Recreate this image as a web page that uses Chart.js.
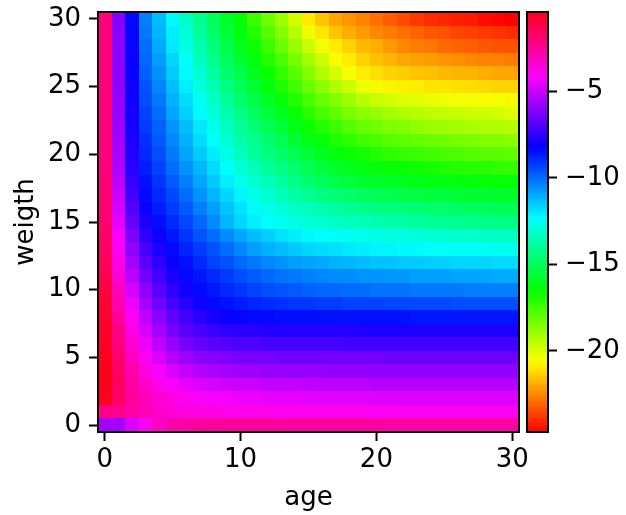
<!DOCTYPE html>
<html>
<head>
<meta charset="utf-8">
<script src="https://cdn.jsdelivr.net/npm/chart.js@4.4.1/dist/chart.umd.min.js"></script>
<style>
  body { margin: 0; background: #fff; }
  #wrap { position: relative; width: 626px; height: 515px; }
  #wrap canvas { position: absolute; top: 0; }
</style>
</head>
<body>
<div id="wrap">
  <canvas id="heat" width="626" height="515" style="left:0"></canvas>
  <canvas id="cbar" width="107" height="515" style="left:519px"></canvas>
</div>
<script>
/* --- data --- */
const ages = [0,1,2,3,4,5,6,7,8,9,10,11,12,13,14,15,16,17,18,19,20,21,22,23,24,25,26,27,28,29,30];
const weights = [0,1,2,3,4,5,6,7,8,9,10,11,12,13,14,15,16,17,18,19,20,21,22,23,24,25,26,27,28,29,30];
const xTicks = [0, 10, 20, 30];
const yTicks = [0, 5, 10, 15, 20, 25, 30];
const cbarTicks = [-20, -15, -10, -5];

// one row per weight (0 .. 30), values along age 0 .. 30
const zByWeight = [
  [-5.6,-5.6,-4.7,-4.0,-3.2,-2.8,-2.7,-2.6,-2.5,-2.5,-2.5,-2.5,-2.5,-2.6,-2.6,-2.6,-2.6,-2.6,-2.6,-2.6,-2.6,-2.7,-2.7,-2.7,-2.7,-2.7,-2.7,-2.7,-2.7,-2.7,-2.7],
  [-2.2,-2.3,-2.7,-3.0,-3.3,-3.5,-3.6,-3.7,-3.7,-3.8,-3.8,-3.8,-3.8,-3.9,-3.9,-3.9,-3.9,-3.9,-3.9,-3.9,-3.9,-3.9,-4.0,-4.0,-4.0,-4.0,-4.0,-4.0,-4.0,-4.0,-4.0],
  [-0.5,-1.6,-2.5,-3.0,-3.4,-3.7,-3.9,-4.1,-4.2,-4.3,-4.4,-4.4,-4.5,-4.5,-4.5,-4.6,-4.6,-4.6,-4.6,-4.6,-4.7,-4.7,-4.7,-4.7,-4.7,-4.7,-4.7,-4.7,-4.7,-4.7,-4.7],
  [-0.4,-1.5,-2.6,-3.3,-3.8,-4.2,-4.5,-4.7,-4.8,-4.9,-5.0,-5.0,-5.1,-5.1,-5.1,-5.2,-5.2,-5.2,-5.2,-5.2,-5.3,-5.3,-5.3,-5.3,-5.3,-5.3,-5.3,-5.3,-5.3,-5.3,-5.3],
  [-0.4,-1.6,-2.8,-3.6,-4.2,-4.7,-5.1,-5.3,-5.5,-5.6,-5.7,-5.7,-5.8,-5.8,-5.8,-5.8,-5.8,-5.9,-5.9,-5.9,-5.9,-5.9,-5.9,-5.9,-5.9,-5.9,-5.9,-5.9,-5.9,-5.9,-5.9],
  [-0.5,-1.8,-3.1,-4.0,-4.7,-5.3,-5.7,-6.0,-6.1,-6.2,-6.3,-6.3,-6.3,-6.4,-6.4,-6.4,-6.4,-6.4,-6.4,-6.4,-6.4,-6.5,-6.5,-6.5,-6.5,-6.5,-6.5,-6.5,-6.5,-6.5,-6.5],
  [-0.6,-2.0,-3.4,-4.4,-5.2,-5.8,-6.3,-6.6,-6.8,-6.9,-7.0,-7.0,-7.1,-7.1,-7.1,-7.1,-7.1,-7.1,-7.2,-7.2,-7.2,-7.2,-7.2,-7.2,-7.2,-7.2,-7.2,-7.2,-7.2,-7.2,-7.2],
  [-0.7,-2.2,-3.7,-4.8,-5.6,-6.3,-6.8,-7.1,-7.3,-7.5,-7.6,-7.6,-7.7,-7.7,-7.7,-7.7,-7.7,-7.7,-7.7,-7.8,-7.8,-7.8,-7.8,-7.8,-7.8,-7.8,-7.8,-7.8,-7.8,-7.8,-7.8],
  [-0.8,-2.5,-4.0,-5.2,-6.0,-6.7,-7.2,-7.6,-7.9,-8.1,-8.2,-8.3,-8.3,-8.4,-8.4,-8.4,-8.5,-8.5,-8.5,-8.5,-8.5,-8.5,-8.5,-8.6,-8.6,-8.6,-8.6,-8.6,-8.6,-8.6,-8.6],
  [-0.9,-2.8,-4.4,-5.6,-6.4,-7.1,-7.6,-8.0,-8.3,-8.5,-8.7,-8.8,-8.9,-9.0,-9.1,-9.1,-9.2,-9.2,-9.3,-9.3,-9.3,-9.4,-9.4,-9.4,-9.4,-9.4,-9.5,-9.5,-9.5,-9.5,-9.5],
  [-1.1,-3.1,-4.8,-6.0,-6.8,-7.5,-8.0,-8.3,-8.6,-8.9,-9.1,-9.3,-9.5,-9.6,-9.7,-9.8,-9.9,-9.9,-10.0,-10.0,-10.1,-10.1,-10.1,-10.2,-10.2,-10.2,-10.2,-10.3,-10.3,-10.3,-10.3],
  [-1.3,-3.4,-5.2,-6.4,-7.2,-7.8,-8.3,-8.6,-8.9,-9.2,-9.5,-9.7,-9.9,-10.1,-10.2,-10.3,-10.4,-10.5,-10.5,-10.6,-10.6,-10.7,-10.7,-10.8,-10.8,-10.8,-10.9,-10.9,-10.9,-11.0,-11.0],
  [-1.5,-3.7,-5.6,-6.8,-7.5,-8.1,-8.5,-8.9,-9.3,-9.6,-9.9,-10.2,-10.4,-10.6,-10.8,-10.9,-11.0,-11.1,-11.2,-11.3,-11.4,-11.4,-11.5,-11.5,-11.6,-11.6,-11.7,-11.7,-11.7,-11.8,-11.8],
  [-1.6,-3.9,-5.9,-7.1,-7.8,-8.3,-8.8,-9.2,-9.6,-10.0,-10.4,-10.8,-11.1,-11.3,-11.5,-11.7,-11.8,-11.9,-12.0,-12.1,-12.2,-12.2,-12.3,-12.3,-12.4,-12.4,-12.5,-12.5,-12.5,-12.6,-12.6],
  [-1.7,-4.2,-6.2,-7.5,-8.1,-8.6,-9.1,-9.6,-10.0,-10.5,-10.9,-11.3,-11.6,-11.9,-12.1,-12.3,-12.4,-12.5,-12.6,-12.7,-12.8,-12.9,-12.9,-13.0,-13.1,-13.1,-13.2,-13.2,-13.3,-13.3,-13.4],
  [-1.8,-4.5,-6.6,-7.8,-8.4,-8.9,-9.4,-9.9,-10.5,-11.2,-11.7,-12.1,-12.4,-12.6,-12.8,-13.0,-13.1,-13.3,-13.4,-13.5,-13.6,-13.7,-13.8,-13.9,-14.0,-14.1,-14.2,-14.2,-14.3,-14.3,-14.4],
  [-1.9,-4.8,-6.9,-8.1,-8.7,-9.2,-9.7,-10.3,-10.8,-11.4,-11.9,-12.3,-12.7,-13.0,-13.3,-13.5,-13.7,-13.9,-14.1,-14.3,-14.4,-14.5,-14.6,-14.7,-14.8,-14.8,-14.9,-15.0,-15.0,-15.1,-15.1],
  [-1.9,-5.0,-7.2,-8.3,-8.9,-9.4,-10.0,-10.6,-11.2,-11.7,-12.2,-12.7,-13.1,-13.5,-13.8,-14.1,-14.4,-14.6,-14.8,-15.0,-15.1,-15.2,-15.3,-15.4,-15.5,-15.5,-15.6,-15.7,-15.7,-15.8,-15.8],
  [-1.9,-5.2,-7.4,-8.5,-9.1,-9.7,-10.3,-10.9,-11.5,-12.1,-12.6,-13.1,-13.5,-13.9,-14.3,-14.7,-15.0,-15.3,-15.5,-15.7,-15.8,-15.9,-16.0,-16.1,-16.2,-16.2,-16.3,-16.4,-16.4,-16.5,-16.5],
  [-2.0,-5.4,-7.6,-8.7,-9.3,-10.0,-10.6,-11.2,-11.8,-12.4,-13.0,-13.5,-14.0,-14.4,-14.8,-15.2,-15.5,-15.8,-16.0,-16.2,-16.4,-16.5,-16.6,-16.7,-16.8,-16.9,-17.0,-17.1,-17.1,-17.2,-17.3],
  [-2.0,-5.5,-7.7,-8.9,-9.5,-10.2,-10.9,-11.5,-12.1,-12.8,-13.4,-13.9,-14.4,-14.8,-15.2,-15.6,-16.0,-16.3,-16.6,-16.8,-17.0,-17.2,-17.3,-17.4,-17.5,-17.6,-17.7,-17.8,-17.9,-17.9,-18.0],
  [-2.0,-5.6,-7.8,-9.0,-9.7,-10.4,-11.1,-11.8,-12.4,-13.1,-13.7,-14.2,-14.7,-15.2,-15.7,-16.1,-16.5,-16.9,-17.2,-17.5,-17.7,-17.9,-18.0,-18.1,-18.2,-18.3,-18.4,-18.5,-18.6,-18.6,-18.7],
  [-2.0,-5.7,-7.9,-9.2,-9.8,-10.6,-11.3,-12.0,-12.7,-13.4,-14.0,-14.6,-15.1,-15.6,-16.1,-16.6,-17.0,-17.4,-17.8,-18.1,-18.3,-18.5,-18.6,-18.8,-18.9,-19.0,-19.1,-19.2,-19.3,-19.3,-19.4],
  [-2.0,-5.8,-7.9,-9.3,-10.0,-10.9,-11.6,-12.3,-13.0,-13.7,-14.3,-14.9,-15.5,-16.0,-16.6,-17.1,-17.6,-18.0,-18.4,-18.7,-18.9,-19.1,-19.3,-19.4,-19.5,-19.6,-19.7,-19.8,-19.8,-19.9,-20.0],
  [-2.0,-5.8,-8.0,-9.5,-10.2,-11.1,-11.8,-12.6,-13.3,-14.0,-14.7,-15.3,-15.9,-16.5,-17.0,-17.6,-18.1,-18.6,-19.0,-19.4,-19.7,-19.9,-20.0,-20.1,-20.2,-20.3,-20.4,-20.4,-20.5,-20.5,-20.6],
  [-2.0,-5.9,-8.0,-9.6,-10.4,-11.3,-12.1,-12.9,-13.6,-14.4,-15.0,-15.7,-16.3,-16.9,-17.5,-18.1,-18.7,-19.3,-19.8,-20.3,-20.6,-20.7,-20.8,-20.9,-21.0,-21.0,-21.1,-21.1,-21.2,-21.3,-21.3],
  [-2.0,-5.9,-8.1,-9.8,-10.6,-11.5,-12.3,-13.1,-13.9,-14.7,-15.3,-16.0,-16.6,-17.3,-17.9,-18.6,-19.3,-19.9,-20.5,-20.9,-21.1,-21.3,-21.4,-21.5,-21.6,-21.7,-21.8,-21.8,-21.9,-22.0,-22.0],
  [-2.0,-6.0,-8.1,-9.9,-10.8,-11.7,-12.5,-13.4,-14.2,-15.0,-15.7,-16.3,-17.0,-17.7,-18.4,-19.1,-19.8,-20.5,-20.9,-21.3,-21.6,-21.8,-22.0,-22.1,-22.2,-22.3,-22.4,-22.5,-22.6,-22.6,-22.7],
  [-2.0,-6.0,-8.2,-10.0,-11.0,-12.0,-12.8,-13.7,-14.5,-15.3,-16.0,-16.7,-17.4,-18.2,-18.9,-19.7,-20.4,-20.9,-21.3,-21.7,-21.9,-22.2,-22.5,-22.7,-22.8,-23.0,-23.1,-23.2,-23.3,-23.4,-23.4],
  [-2.0,-6.0,-8.2,-10.2,-11.2,-12.1,-13.0,-14.0,-14.8,-15.6,-16.3,-17.0,-17.8,-18.6,-19.4,-20.3,-21.0,-21.5,-21.9,-22.2,-22.5,-22.7,-22.9,-23.1,-23.3,-23.4,-23.6,-23.7,-23.8,-23.9,-24.0],
  [-2.0,-6.1,-8.3,-10.3,-11.3,-12.3,-13.3,-14.2,-15.0,-15.8,-16.5,-17.4,-18.2,-19.0,-19.9,-20.9,-21.5,-22.0,-22.3,-22.6,-22.9,-23.2,-23.5,-23.8,-24.0,-24.1,-24.2,-24.3,-24.5,-24.6,-24.7]
];

/* --- hsv colormap (matplotlib segment table) --- */
const HSV_SEGMENTS = {
  r: [[0, 1], [0.15873, 1], [0.174603, 0.96875], [0.333333, 0.03125], [0.349206, 0], [0.666667, 0], [0.68254, 0.03125], [0.84127, 0.96875], [0.857143, 1], [1, 1]],
  g: [[0, 0], [0.15873, 0.9375], [0.174603, 1], [0.507937, 1], [0.666667, 0.0625], [0.68254, 0], [1, 0]],
  b: [[0, 0], [0.333333, 0], [0.349206, 0.0625], [0.507937, 1], [0.84127, 1], [0.857143, 0.9375], [1, 0.09375]]
};

function segValue(seg, t) {
  for (let i = 1; i < seg.length; i++) {
    if (t <= seg[i][0]) {
      const [x0, y0] = seg[i - 1];
      const [x1, y1] = seg[i];
      return y0 + (y1 - y0) * (t - x0) / (x1 - x0);
    }
  }
  return seg[seg.length - 1][1];
}

function hsvColor(t) {
  t = Math.min(1, Math.max(0, t));
  const r = Math.round(segValue(HSV_SEGMENTS.r, t) * 255);
  const g = Math.round(segValue(HSV_SEGMENTS.g, t) * 255);
  const b = Math.round(segValue(HSV_SEGMENTS.b, t) * 255);
  return `rgb(${r},${g},${b})`;
}

const allZ = zByWeight.flat();
const vmin = Math.min(...allZ);
const vmax = Math.max(...allZ);

const FONT = { family: "'DejaVu Sans', sans-serif", size: 26 };

/* --- plugins --- */
const heatCells = {
  id: 'heatCells',
  beforeDatasetsDraw(chart) {
    const { ctx, scales: { x, y } } = chart;
    ctx.save();
    chart.data.datasets[0].data.forEach(p => {
      const x0 = Math.round(x.getPixelForValue(p.x - 0.5));
      const x1 = Math.round(x.getPixelForValue(p.x + 0.5));
      const y0 = Math.round(y.getPixelForValue(p.y + 0.5));
      const y1 = Math.round(y.getPixelForValue(p.y - 0.5));
      ctx.fillStyle = hsvColor((p.v - vmin) / (vmax - vmin));
      ctx.fillRect(x0, y0, x1 - x0, y1 - y0);
    });
    ctx.restore();
  }
};

const colorRamp = {
  id: 'colorRamp',
  beforeDatasetsDraw(chart) {
    const { ctx, chartArea: a, scales: { y } } = chart;
    ctx.save();
    for (let py = Math.floor(a.top); py < a.bottom; py++) {
      const v = y.getValueForPixel(py + 0.5);
      ctx.fillStyle = hsvColor((v - vmin) / (vmax - vmin));
      ctx.fillRect(a.left, py, a.right - a.left, 1);
    }
    ctx.restore();
  }
};

const frame = {
  id: 'frame',
  afterDraw(chart) {
    const { ctx, chartArea: a } = chart;
    ctx.save();
    ctx.strokeStyle = '#000';
    ctx.lineWidth = 2;
    ctx.strokeRect(a.left, a.top, a.right - a.left, a.bottom - a.top);
    ctx.restore();
  }
};

const tickGrid = { display: true, drawOnChartArea: false, drawTicks: true, tickLength: 9, tickWidth: 2, tickColor: '#000' };

/* --- heatmap --- */
const cells = [];
weights.forEach((w, i) => ages.forEach((a, j) => cells.push({ x: a, y: w, v: zByWeight[i][j] })));

new Chart(document.getElementById('heat'), {
  type: 'scatter',
  data: { datasets: [{ data: cells, pointRadius: 0, pointHoverRadius: 0 }] },
  plugins: [heatCells, frame],
  options: {
    responsive: false,
    animation: false,
    events: [],
    layout: { padding: { top: 12, right: 107, left: 0, bottom: 0 } },
    plugins: { legend: { display: false }, tooltip: { enabled: false } },
    scales: {
      x: {
        type: 'linear', min: -0.5, max: 30.5,
        afterBuildTicks: s => { s.ticks = xTicks.map(v => ({ value: v })); },
        afterFit: s => { s.height = 83; s.paddingLeft = 0; s.paddingRight = 0; },
        grid: tickGrid,
        border: { display: false },
        ticks: { color: '#000', font: FONT, padding: 4, maxRotation: 0 },
        title: { display: true, text: 'age', color: '#000', font: FONT, padding: { top: 0, bottom: 1 } }
      },
      y: {
        type: 'linear', min: -0.5, max: 30.5,
        afterBuildTicks: s => { s.ticks = yTicks.map(v => ({ value: v })); },
        afterFit: s => { s.width = 98; s.paddingTop = 0; s.paddingBottom = 0; },
        grid: tickGrid,
        border: { display: false },
        ticks: { color: '#000', font: FONT, padding: 8 },
        title: { display: true, text: 'weigth', color: '#000', font: FONT, padding: { top: 11, bottom: 0 } }
      }
    }
  }
});

/* --- colorbar --- */
new Chart(document.getElementById('cbar'), {
  type: 'scatter',
  data: { datasets: [{ data: [], pointRadius: 0 }] },
  plugins: [colorRamp, frame],
  options: {
    responsive: false,
    animation: false,
    events: [],
    layout: { padding: { top: 12, left: 8, right: 0, bottom: 83 } },
    plugins: { legend: { display: false }, tooltip: { enabled: false } },
    scales: {
      x: { display: false, min: 0, max: 1 },
      y: {
        type: 'linear', position: 'right', min: vmin, max: vmax,
        afterBuildTicks: s => { s.ticks = cbarTicks.map(v => ({ value: v })); },
        afterFit: s => { s.width = 78; s.paddingTop = 0; s.paddingBottom = 0; },
        grid: tickGrid,
        border: { display: false },
        ticks: { color: '#000', font: FONT, padding: 8, callback: v => '\u2212' + Math.abs(v) }
      }
    }
  }
});
</script>
</body>
</html>
